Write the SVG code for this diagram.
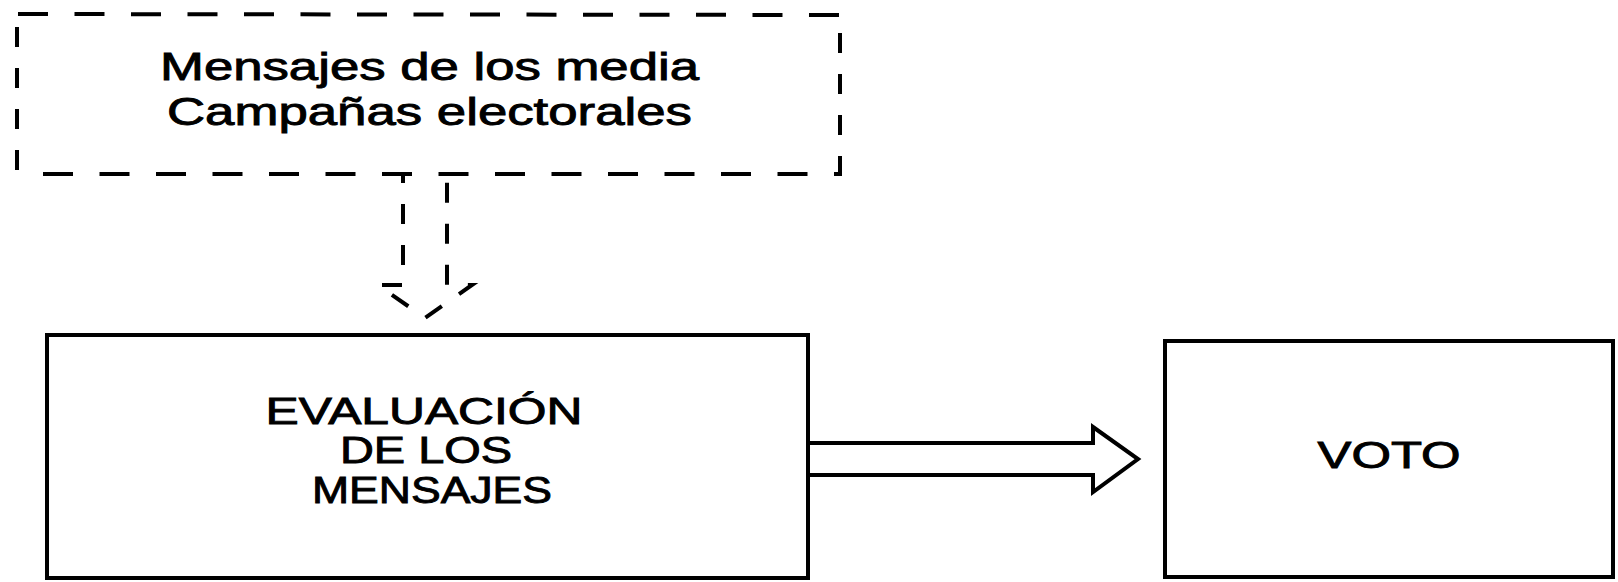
<svg xmlns="http://www.w3.org/2000/svg" width="1618" height="582" viewBox="0 0 1618 582">
  <style>
    .lbl { font-family: "Liberation Sans", Arial, sans-serif; fill: #000; stroke: #000; stroke-width: 0.9; text-anchor: middle; }
    .box { fill: none; stroke: #000; stroke-width: 4; }
    .dh { fill: none; stroke: #000; stroke-width: 4; stroke-dasharray: 30 26.5; }
    .dv { fill: none; stroke: #000; stroke-width: 4; stroke-dasharray: 20 21; }
    .conn { fill: none; stroke: #000; stroke-width: 4; stroke-linejoin: miter; }
  </style>
  <rect x="0" y="0" width="1618" height="582" fill="#fff"/>

  <g id="node-media">
    <line class="dh" x1="18" y1="14" x2="840" y2="15"/>
    <line class="dh" x1="43" y1="174" x2="840" y2="174"/>
    <line class="dv" x1="17" y1="27" x2="17" y2="174"/>
    <line class="dv" x1="840" y1="33" x2="840" y2="178"/>
    <text class="lbl" x="429.5" y="80" font-size="39" textLength="539" lengthAdjust="spacingAndGlyphs">Mensajes de los media</text>
    <text class="lbl" x="429.5" y="125" font-size="39" textLength="525" lengthAdjust="spacingAndGlyphs">Campañas electorales</text>
  </g>

  <g id="node-evaluacion">
    <rect class="box" x="47" y="335" width="761" height="243"/>
    <text class="lbl" x="424" y="424" font-size="37" textLength="317" lengthAdjust="spacingAndGlyphs">EVALUACIÓN</text>
    <text class="lbl" x="426" y="463" font-size="37" textLength="172" lengthAdjust="spacingAndGlyphs">DE LOS</text>
    <text class="lbl" x="432" y="503" font-size="37" textLength="240" lengthAdjust="spacingAndGlyphs">MENSAJES</text>
  </g>

  <g id="node-voto">
    <rect class="box" x="1165" y="341" width="448" height="236"/>
    <text class="lbl" x="1389" y="468" font-size="37" textLength="143" lengthAdjust="spacingAndGlyphs">VOTO</text>
  </g>

  <g id="connectors">
    <path class="conn" d="M403,174 V285 H378 L425,318 L472,285 H447 V174" stroke-dasharray="20 21" stroke-dashoffset="11"/>
    <path class="conn" d="M808,443 H1093 V427 L1138,459 L1093,492 V475 H808"/>
  </g>
</svg>
